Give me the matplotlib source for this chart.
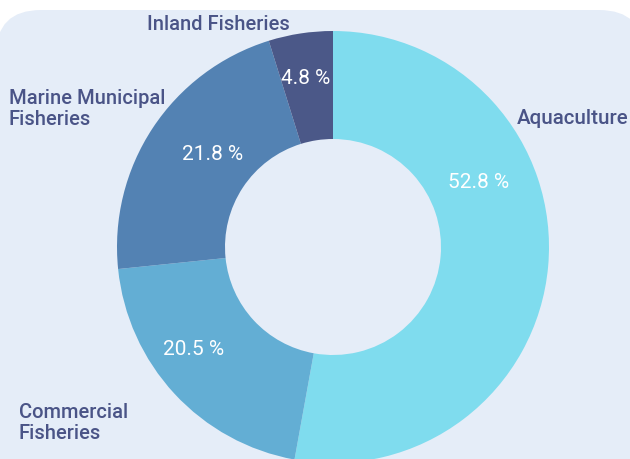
import matplotlib.pyplot as plt
from matplotlib.patches import FancyBboxPatch

categories = ['Aquaculture', 'Commercial\nFisheries', 'Marine Municipal\nFisheries', 'Inland Fisheries']
shares = [52.8, 20.5, 21.8, 4.8]
colors = ['#7fdcee', '#63aed4', '#5382b3', '#4b5888']

plt.rcParams['font.family'] = ['Roboto', 'DejaVu Sans']

fig = plt.figure(figsize=(6.3, 4.6), dpi=100)
fig.patch.set_facecolor('white')
ax = fig.add_axes([0, 0, 1, 1])

# rounded panel behind the chart
panel = FancyBboxPatch((-4, -40), 648, 489, boxstyle='round,pad=0,rounding_size=45',
                       facecolor='#e5edf8', edgecolor='none', zorder=0)
ax.add_patch(panel)

cx, cy, R = 333, 460 - 248, 216
wedges, _ = ax.pie(shares, colors=colors, startangle=90, counterclock=False,
                   center=(cx, cy), radius=R, frame=True,
                   wedgeprops=dict(width=R / 2, edgecolor='none'))
ax.set_xlim(0, 630)
ax.set_ylim(0, 460)
ax.set_aspect('equal')
ax.axis('off')

# percentage labels
pct_pos = [(479, 182), (194, 350), (213, 154), (306, 78)]
for v, (x, y) in zip(shares, pct_pos):
    ax.text(x, 460 - y, f'{v} %', color='white', fontsize=15, fontweight='normal',
            ha='center', va='center')

# category labels
lab_col = '#4a5487'
ax.text(517, 460 - 118, categories[0], color=lab_col, fontsize=14.8, fontweight='medium',
        ha='left', va='center')
ax.text(19, 460 - 423, categories[1], color=lab_col, fontsize=14.5, fontweight='medium',
        ha='left', va='center', linespacing=1.12)
ax.text(9, 460 - 109, categories[2], color=lab_col, fontsize=14.5, fontweight='medium',
        ha='left', va='center', linespacing=1.12)
ax.text(218, 460 - 24, categories[3], color=lab_col, fontsize=14.5, fontweight='medium',
        ha='center', va='center')

fig.savefig('out.png', dpi=100, facecolor='white')
